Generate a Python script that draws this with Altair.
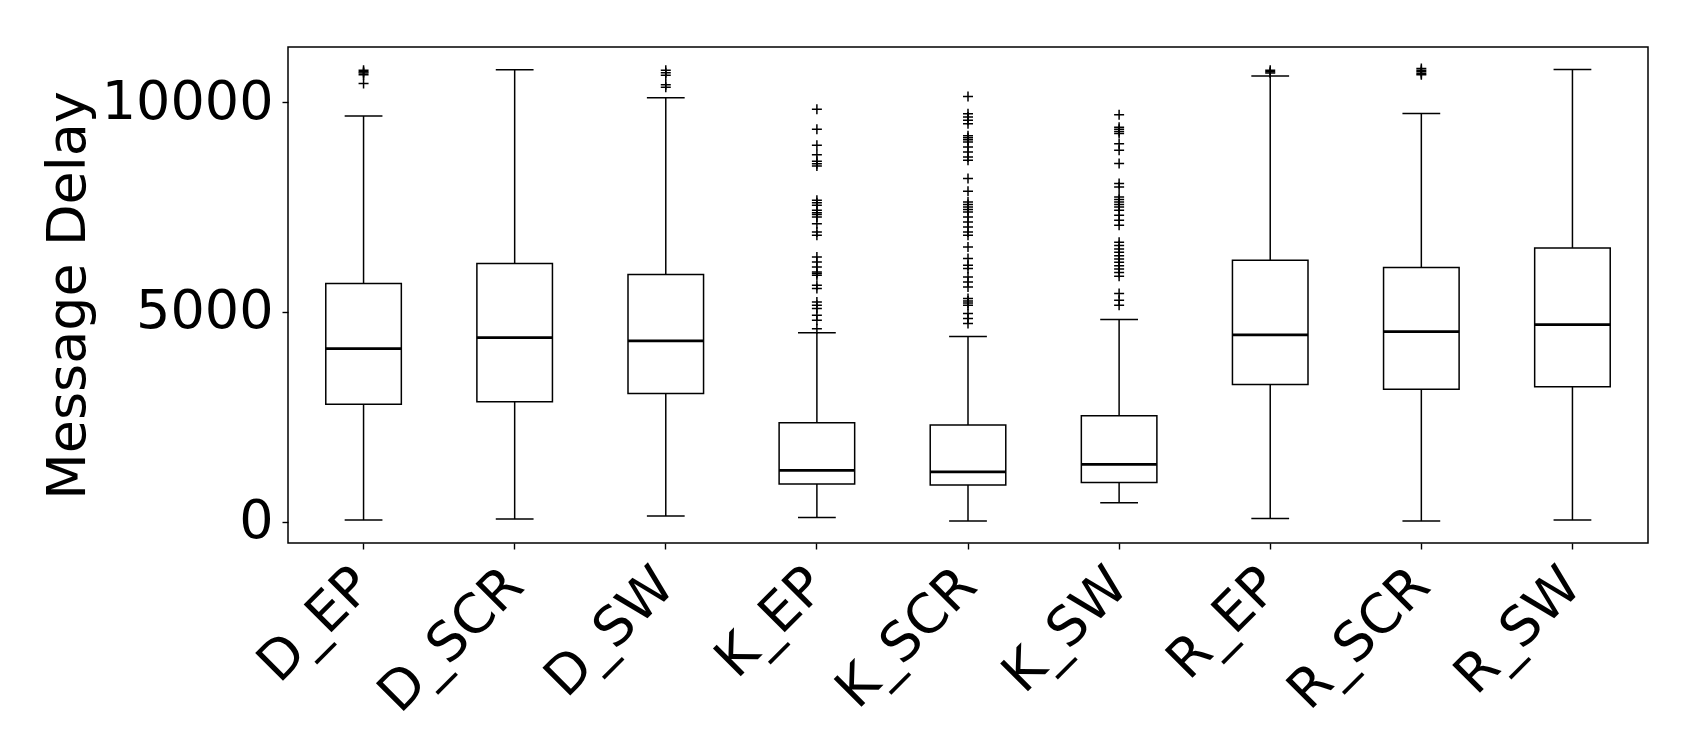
import altair as alt
import pandas as pd

categories = ["D_EP", "D_SCR", "D_SW", "K_EP", "K_SCR", "K_SW", "R_EP", "R_SCR", "R_SW"]
whisker_low = [40, 63, 135, 103, 16, 452, 79, 16, 40]
q1 = [2802, 2857, 3056, 897, 873, 937, 3270, 3159, 3214]
median = [4127, 4389, 4310, 1222, 1190, 1365, 4452, 4532, 4698]
q3 = [5675, 6151, 5889, 2357, 2302, 2524, 6230, 6056, 6524]
whisker_high = [9667, 10770, 10103, 4500, 4413, 4817, 10619, 9730, 10778]

out_D_EP = [10760, 10720, 10690, 10650, 10440]
out_D_SCR = []
out_D_SW = [10760, 10700, 10640, 10410, 10350]
out_K_EP = [9826, 9350, 8969, 8746, 8588, 8532, 8476, 7659, 7603, 7540, 7421, 7365,
            7318, 7262, 7103, 6905, 6826, 6310, 6190, 6071, 5952, 5913, 5873, 5635,
            5556, 5238, 5159, 5079, 4921, 4800, 4600]
out_K_SCR = [10130, 9723, 9643, 9564, 9485, 9200, 9150, 9100, 9050, 8929, 8810, 8690,
             8612, 8176, 7873, 7620, 7560, 7500, 7440, 7380, 7262, 7143, 7024, 6905,
             6825, 6548, 6270, 6111, 6033, 5833, 5714, 5595, 5317, 5260, 5210, 5159,
             4962, 4843, 4724]
out_K_SW = [9700, 9400, 9350, 9300, 9250, 9009, 8850, 8533, 8057, 7976, 7740, 7680,
            7620, 7560, 7500, 7420, 7302, 7183, 7064, 6660, 6580, 6500, 6420, 6340,
            6260, 6180, 6100, 6020, 5940, 5850, 5437, 5278, 5159]
out_R_EP = [10760, 10720, 10690]
out_R_SCR = [10800, 10760, 10720, 10680, 10650]
out_R_SW = []

y_ticks = [0, 5000, 10000]

outlier_lists = [out_D_EP, out_D_SCR, out_D_SW, out_K_EP, out_K_SCR, out_K_SW,
                 out_R_EP, out_R_SCR, out_R_SW]

stats = pd.DataFrame({
    "cat": categories, "lo": whisker_low, "q1": q1, "med": median,
    "q3": q3, "hi": whisker_high,
})
out_rows = [{"cat": c, "v": v} for c, lst in zip(categories, outlier_lists) for v in lst]
outs = pd.DataFrame(out_rows)

FS = 54
step = 1360 / len(categories)
box_w = step * 0.5
cap_w = step * 0.25

x_enc = alt.X("cat:N", sort=categories,
              scale=alt.Scale(paddingInner=0, paddingOuter=0),
              axis=alt.Axis(title=None, labelAngle=315, labelAlign="right",
                            labelBaseline="middle", labelPadding=28,
                            labelFontSize=FS, labelFont="DejaVu Sans",
                            labelColor="black", tickColor="black", tickWidth=1.4,
                            tickSize=6, domain=False, grid=False))
y_scale = alt.Scale(domain=[-507, 11312], nice=False, zero=False)
y_axis = alt.Axis(title="Message Delay", values=y_ticks, format="d",
                  labelFontSize=FS, labelFont="DejaVu Sans", labelColor="black",
                  labelPadding=9, tickColor="black", tickWidth=1.4, tickSize=6,
                  domain=False, grid=False, titleFontSize=FS, titleFont="DejaVu Sans",
                  titleFontWeight="normal", titleColor="black", titleAngle=270,
                  titleX=-204, titleY=248, titleAlign="center",
                  titleBaseline="alphabetic")

base = alt.Chart(stats)

whisk_lo = base.mark_rule(color="black", strokeWidth=1.5).encode(
    x=x_enc, y=alt.Y("lo:Q", scale=y_scale, axis=y_axis), y2="q1:Q")
whisk_hi = base.mark_rule(color="black", strokeWidth=1.5).encode(
    x=x_enc, y=alt.Y("q3:Q", scale=y_scale, axis=y_axis), y2="hi:Q")
box = base.mark_bar(fill="white", stroke="black", strokeWidth=1.5, size=box_w).encode(
    x=x_enc, y=alt.Y("q1:Q", scale=y_scale, axis=y_axis), y2="q3:Q")
cap_lo = base.mark_tick(color="black", thickness=1.5, size=cap_w, opacity=1).encode(
    x=x_enc, y=alt.Y("lo:Q", scale=y_scale, axis=y_axis))
cap_hi = base.mark_tick(color="black", thickness=1.5, size=cap_w, opacity=1).encode(
    x=x_enc, y=alt.Y("hi:Q", scale=y_scale, axis=y_axis))
med = base.mark_tick(color="black", thickness=2.8, size=box_w, opacity=1).encode(
    x=x_enc, y=alt.Y("med:Q", scale=y_scale, axis=y_axis))
pts = alt.Chart(outs).mark_point(shape="M-1,0H1M0,-1V1", filled=False, stroke="black",
                                 strokeWidth=1.5, size=100, opacity=1).encode(
    x=x_enc, y=alt.Y("v:Q", scale=y_scale, axis=y_axis))

chart = alt.layer(whisk_lo, whisk_hi, box, cap_lo, cap_hi, med, pts).properties(
    width=1360, height=496,
    background="white",
    autosize=alt.AutoSizeParams(type="none"),
    padding={"left": 280, "top": 39, "right": 40, "bottom": 185},
).configure_view(stroke="black", strokeWidth=1.5)

chart.save("out.html", embed_options={"renderer": "svg", "actions": False})
